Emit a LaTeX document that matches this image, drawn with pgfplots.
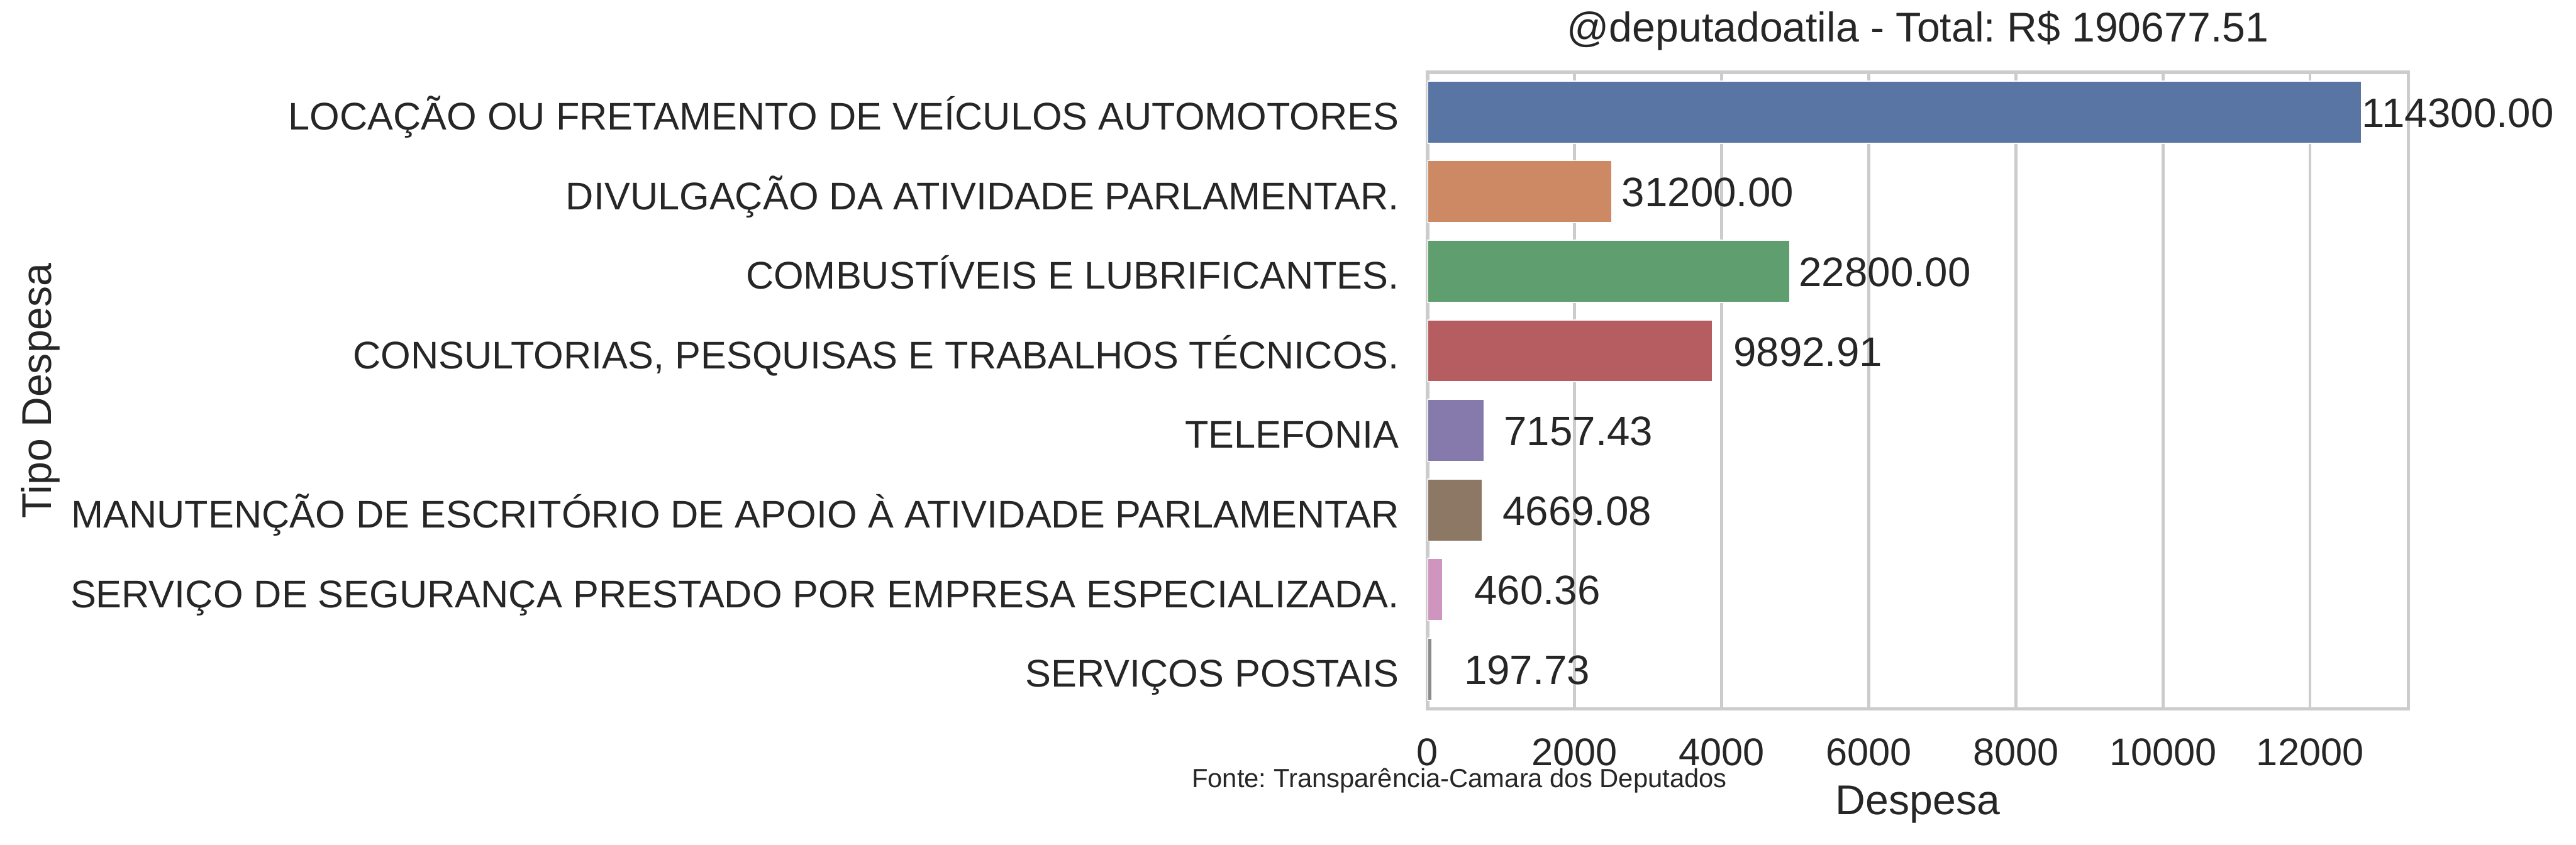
\documentclass[border=0pt]{standalone}
\usepackage{pgfplots}
\pgfplotsset{compat=1.18}
\usepackage{fontspec}
\setmainfont{Liberation Sans}
\frenchspacing
\definecolor{txt}{HTML}{262626}
\definecolor{gridc}{HTML}{CCCCCC}
\definecolor{c1}{HTML}{5975A4}
\definecolor{c2}{HTML}{CC8963}
\definecolor{c3}{HTML}{5F9E6E}
\definecolor{c4}{HTML}{B55D60}
\definecolor{c5}{HTML}{857AAB}
\definecolor{c6}{HTML}{8D7866}
\definecolor{c7}{HTML}{D095BF}
\definecolor{c8}{HTML}{8C8C8C}
\begin{document}
\begin{tikzpicture}
\useasboundingbox (-649.4bp,-61.9bp) rectangle (522.5bp,322.6bp);
\begin{axis}[
  at={(0,0)}, anchor=south west,
  scale only axis, width=446.2bp, height=289.7bp,
  xmin=0, xmax=13335, ymin=-0.5, ymax=7.5, y dir=reverse,
  xbar, bar shift=0pt, bar width=0.78,
  xtick={0,2000,4000,6000,8000,10000,12000},
  ytick={0,1,2,3,4,5,6,7},
  yticklabels={LOCAÇÃO OU FRETAMENTO DE VEÍCULOS AUTOMOTORES,
    DIVULGAÇÃO DA ATIVIDADE PARLAMENTAR.,
    COMBUSTÍVEIS E LUBRIFICANTES.,
    {CONSULTORIAS, PESQUISAS E TRABALHOS TÉCNICOS.},
    TELEFONIA,
    MANUTENÇÃO DE ESCRITÓRIO DE APOIO À ATIVIDADE PARLAMENTAR,
    SERVIÇO DE SEGURANÇA PRESTADO POR EMPRESA ESPECIALIZADA.,
    SERVIÇOS POSTAIS},
  major tick length=0pt,
  xmajorgrids, ymajorgrids=false,
  major grid style={draw=gridc, line width=1.3bp},
  axis line style={draw=gridc, line width=1.6bp},
  /pgf/number format/assume math mode=true,
  /pgf/number format/set thousands separator={},
  scaled x ticks=false,
  xticklabel style={anchor=base, inner sep=0pt, yshift=-25.7bp, font=\fontsize{17.6}{20}\selectfont, text=txt},
  yticklabel style={anchor=base east, inner sep=0pt, xshift=-12.7bp, yshift=-8.1bp, font=\fontsize{17.6}{20}\selectfont, text=txt},
  title={@deputadoatila - Total: R\$ 190677.51},
  title style={at={(axis description cs:0.5,1)}, anchor=base, inner sep=0pt, yshift=7.9bp, font=\fontsize{19}{22}\selectfont, text=txt},
  xlabel={Despesa},
  xlabel style={at={(axis description cs:0.5,0)}, anchor=base, inner sep=0pt, yshift=-48bp, font=\fontsize{19}{22}\selectfont, text=txt},
  ylabel={Tipo Despesa},
  every axis y label/.style={at={(axis description cs:0,0.5)}, xshift=-626.2bp, rotate=90, anchor=base, inner sep=0pt, font=\fontsize{19}{22}\selectfont, text=txt},
  point meta=explicit symbolic,
  nodes near coords,
  every node near coord/.append style={anchor=base west, inner sep=0pt, yshift=-6.9bp, font=\fontsize{18.8}{22}\selectfont, text=txt},
]
\addplot[fill=c1, draw=white, line width=0.5bp] coordinates {(12700,0) [114300.00]};
\addplot[fill=c2, draw=white, line width=0.5bp, every node near coord/.append style={xshift=4.3bp}] coordinates {(2507,1) [31200.00]};
\addplot[fill=c3, draw=white, line width=0.5bp, every node near coord/.append style={xshift=4.0bp}] coordinates {(4925,2) [22800.00]};
\addplot[fill=c4, draw=white, line width=0.5bp, every node near coord/.append style={xshift=9.4bp}] coordinates {(3872,3) [9892.91]};
\addplot[fill=c5, draw=white, line width=0.5bp, every node near coord/.append style={xshift=8.9bp}] coordinates {(768,4) [7157.43]};
\addplot[fill=c6, draw=white, line width=0.5bp, every node near coord/.append style={xshift=8.9bp}] coordinates {(749,5) [4669.08]};
\addplot[fill=c7, draw=white, line width=0.5bp, every node near coord/.append style={xshift=14.2bp}] coordinates {(205,6) [460.36]};
\addplot[fill=c8, draw=white, line width=0.5bp, every node near coord/.append style={xshift=14.4bp}] coordinates {(62,7) [197.73]};
\end{axis}
\node[anchor=base west, inner sep=0pt, font=\fontsize{12}{14}\selectfont, text=txt] at (-107.4bp,-35.8bp) {Fonte: Transparência-Camara dos Deputados};
\end{tikzpicture}
\end{document}
